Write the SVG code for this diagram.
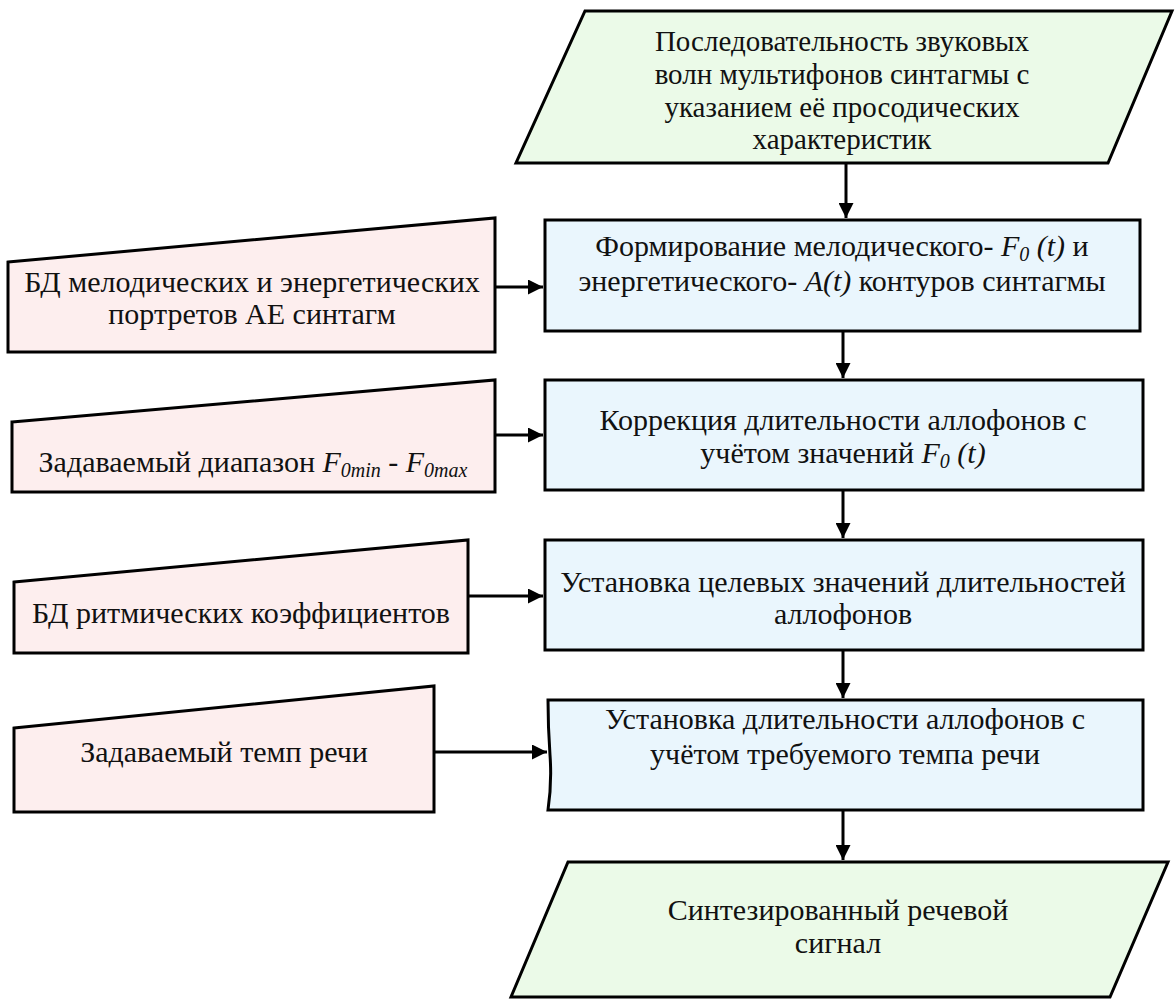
<svg xmlns="http://www.w3.org/2000/svg" width="1175" height="1001" viewBox="0 0 1175 1001">
<defs>
<marker id="ah" viewBox="0 0 10 10" refX="10" refY="5" markerWidth="5" markerHeight="5" orient="auto" markerUnits="strokeWidth"><path d="M0,0 L10,5 L0,10 z" fill="#000"/></marker>
<style>
.io{fill:#ebfae8;stroke:#000;stroke-width:3}
.pr{fill:#eaf6fd;stroke:#000;stroke-width:3}
.db{fill:#fdeeee;stroke:#000;stroke-width:3}
.c{fill:none;stroke:#000;stroke-width:3;marker-end:url(#ah)}
</style>
</defs>
<rect width="1175" height="1001" fill="#fff"/>
<g font-family="'Liberation Serif', 'Times New Roman', serif" font-size="30" fill="#111" text-anchor="middle">
<g id="input">
<polygon class="io" points="585,11 1172,11 1108,163 516,163"/>
<text x="842" y="51" font-size="29">Последовательность звуковых</text>
<text x="842" y="84" font-size="29">волн мультифонов синтагмы с</text>
<text x="842" y="117" font-size="29">указанием её просодических</text>
<text x="842" y="149" font-size="29">характеристик</text>
</g>
<g id="p1">
<rect class="pr" x="545" y="220" width="595" height="111"/>
<text x="842" y="256">Формирование мелодического- <tspan font-style="italic">F</tspan><tspan font-style="italic" font-size="20" dy="5">0</tspan><tspan font-style="italic" dy="-5"> (t)</tspan> и</text>
<text x="842" y="291">энергетического- <tspan font-style="italic">A(t)</tspan> контуров синтагмы</text>
</g>
<g id="d1">
<polygon class="db" points="8,262 495,218 495,352 8,352"/>
<text x="252" y="292">БД мелодических и энергетических</text>
<text x="252" y="324">портретов АЕ синтагм</text>
</g>
<g id="p2">
<rect class="pr" x="545" y="380" width="598" height="110"/>
<text x="843" y="430">Коррекция длительности аллофонов с</text>
<text x="843" y="463">учётом значений <tspan font-style="italic">F</tspan><tspan font-style="italic" font-size="20" dy="5">0</tspan><tspan font-style="italic" dy="-5"> (t)</tspan></text>
</g>
<g id="d2">
<polygon class="db" points="12,422 495,380 495,492 12,492"/>
<text x="253" y="472">Задаваемый диапазон <tspan font-style="italic">F</tspan><tspan font-style="italic" font-size="20" dy="5">0min</tspan><tspan dy="-5"> - </tspan><tspan font-style="italic">F</tspan><tspan font-style="italic" font-size="20" dy="5">0max</tspan></text>
</g>
<g id="p3">
<rect class="pr" x="545" y="540" width="598" height="110"/>
<text x="843" y="592">Установка целевых значений длительностей</text>
<text x="843" y="624">аллофонов</text>
</g>
<g id="d3">
<polygon class="db" points="14,582 468,540 468,653 14,653"/>
<text x="241" y="623">БД ритмических коэффициентов</text>
</g>
<g id="p4">
<path class="pr" d="M548,700 L1143,700 L1143,810 L548,810 Q552,783 550,755 Q548,727 548,700 Z"/>
<text x="845" y="729">Установка длительности аллофонов с</text>
<text x="845" y="764">учётом  требуемого темпа речи</text>
</g>
<g id="d4">
<polygon class="db" points="14,728 434,686 434,812 14,812"/>
<text x="224" y="762">Задаваемый темп речи</text>
</g>
<g id="output">
<polygon class="io" points="568,862 1168,862 1110,997 511,997"/>
<text x="838" y="920">Синтезированный речевой</text>
<text x="838" y="953">сигнал</text>
</g>
</g>
<g id="connectors">
<line class="c" x1="846" y1="163" x2="846" y2="218"/>
<line class="c" x1="495" y1="287" x2="543" y2="287"/>
<line class="c" x1="843" y1="331" x2="843" y2="378"/>
<line class="c" x1="495" y1="435" x2="543" y2="435"/>
<line class="c" x1="843" y1="490" x2="843" y2="538"/>
<line class="c" x1="468" y1="596" x2="543" y2="596"/>
<line class="c" x1="843" y1="650" x2="843" y2="698"/>
<line class="c" x1="434" y1="752" x2="547" y2="752"/>
<line class="c" x1="843" y1="810" x2="843" y2="860"/>
</g>
</svg>
